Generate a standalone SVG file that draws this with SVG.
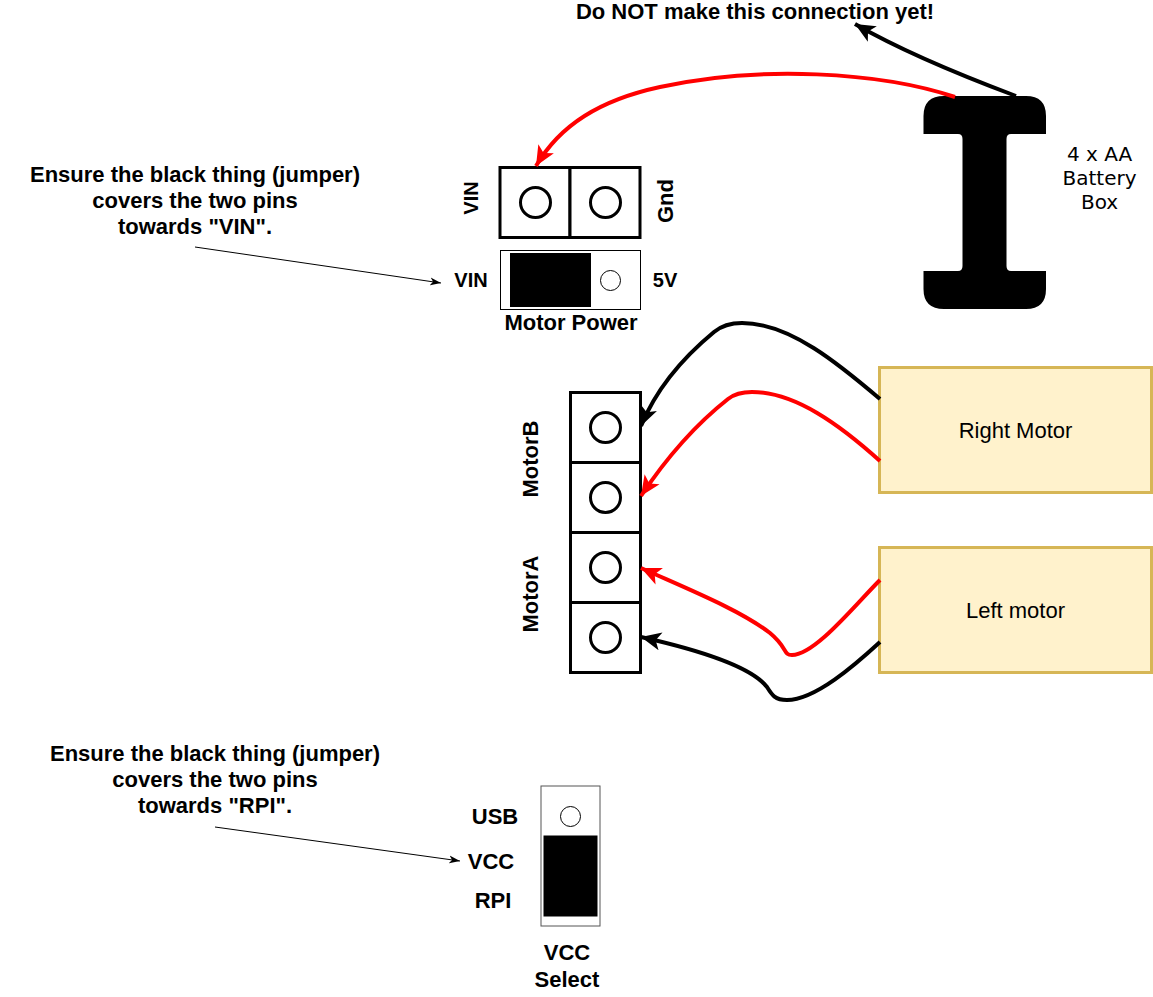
<svg xmlns="http://www.w3.org/2000/svg" width="1153" height="997" viewBox="0 0 1153 997">
<style>
text{font-family:"Liberation Sans",Arial,sans-serif;fill:#000}
.b{font-weight:bold;font-size:22px;text-anchor:middle}
.s{font-weight:bold;font-size:20px;text-anchor:middle}
.n{font-size:22px;text-anchor:middle}
.t{font-family:"DejaVu Sans",sans-serif;font-size:20px;text-anchor:middle}
.cell{fill:#fff;stroke:#000;stroke-width:3}
.pin{fill:#fff;stroke:#000;stroke-width:3}
.pin2{fill:#fff;stroke:#000;stroke-width:1}
.motor{fill:#fff2cc;stroke:#d6b656;stroke-width:3}
.w{fill:none;stroke-width:4}
.k{stroke:#000}
.r{stroke:#f00}
.thin{fill:none;stroke:#000;stroke-width:1}
</style>
<defs>
<marker id="ak" markerUnits="userSpaceOnUse" markerWidth="24" markerHeight="24" refX="20" refY="12" orient="auto"><path d="M0 3 L20 12 L0 21 L5 12Z" fill="#000"/></marker>
<marker id="ar" markerUnits="userSpaceOnUse" markerWidth="24" markerHeight="24" refX="20" refY="12" orient="auto"><path d="M0 3 L20 12 L0 21 L5 12Z" fill="#f00"/></marker>
<marker id="at" markerUnits="userSpaceOnUse" markerWidth="12" markerHeight="10" refX="11" refY="5" orient="auto"><path d="M0 1 L11 5 L0 9 L3 5Z" fill="#000"/></marker>
</defs>
<g id="battery">
<path d="M944 96 H1026 Q1046 96 1046 116 V134 H1011 Q1006.500 134 1006.500 139 V266 Q1006.500 271 1011 271 H1046 V289 Q1046 309 1026 309 H944 Q923.500 309 923.500 289 V271 H958 Q962.500 271 962.500 266 V139 Q962.500 134 958 134 H923.500 V116 Q923.500 96 944 96Z" fill="#000"/>
<text class="t" x="1099.500" y="161">4 x AA</text>
<text class="t" x="1099.500" y="185">Battery</text>
<text class="t" x="1099.500" y="209">Box</text>
</g>
<g id="note-top">
<text class="b" x="755" y="19">Do NOT make this connection yet!</text>
</g>
<g id="power-terminal">
<rect class="cell" x="500" y="167.500" width="70" height="70"/>
<rect class="cell" x="570" y="167.500" width="70" height="70"/>
<circle class="pin" cx="535.500" cy="202.500" r="15"/>
<circle class="pin" cx="605.500" cy="202.500" r="15"/>
<text class="s" transform="translate(478 198) rotate(-90)">VIN</text>
<text class="b" transform="translate(673 201) rotate(-90)">Gnd</text>
</g>
<g id="motor-power">
<rect x="500.500" y="250.500" width="140" height="59" fill="#fff" stroke="#000"/>
<rect x="510" y="253" width="81" height="54" fill="#000"/>
<circle class="pin2" cx="610.500" cy="280.500" r="10"/>
<text class="s" x="471" y="287">VIN</text>
<text class="s" x="665" y="287">5V</text>
<text class="b" x="571" y="330">Motor Power</text>
</g>
<g id="note-vin">
<text class="b" x="195" y="182">Ensure the black thing (jumper)</text>
<text class="b" x="195" y="208">covers the two pins</text>
<text class="b" x="195" y="234">towards "VIN".</text>
</g>
<g id="motor-terminal">
<rect class="cell" x="570.500" y="392.500" width="70" height="70"/>
<rect class="cell" x="570.500" y="462.500" width="70" height="70"/>
<rect class="cell" x="570.500" y="532.500" width="70" height="70"/>
<rect class="cell" x="570.500" y="602.500" width="70" height="70"/>
<circle class="pin" cx="605.500" cy="427.500" r="15"/>
<circle class="pin" cx="605.500" cy="497.500" r="15"/>
<circle class="pin" cx="605.500" cy="567.500" r="15"/>
<circle class="pin" cx="605.500" cy="637.500" r="15"/>
<text class="b" transform="translate(538 459) rotate(-90)">MotorB</text>
<text class="b" transform="translate(538 594) rotate(-90)">MotorA</text>
</g>
<g id="right-motor">
<rect class="motor" x="879.500" y="367.500" width="272" height="125"/>
<text class="n" x="1015.500" y="438">Right Motor</text>
</g>
<g id="left-motor">
<rect class="motor" x="879.500" y="547.500" width="272" height="125"/>
<text class="n" x="1015.500" y="618">Left motor</text>
</g>
<g id="note-rpi">
<text class="b" x="215" y="761">Ensure the black thing (jumper)</text>
<text class="b" x="215" y="787">covers the two pins</text>
<text class="b" x="215" y="813">towards "RPI".</text>
</g>
<g id="vcc-select">
<rect x="541" y="786" width="59" height="140" fill="#fff" stroke="#555" stroke-width="1"/>
<rect x="543.500" y="835.500" width="54" height="81" fill="#000"/>
<circle class="pin2" cx="570.500" cy="816.500" r="10"/>
<text class="b" x="495" y="824">USB</text>
<text class="b" x="491" y="869">VCC</text>
<text class="b" x="493" y="908">RPI</text>
<text class="b" x="567" y="960">VCC</text>
<text class="b" x="567" y="987">Select</text>
</g>
<g id="connectors">
<path class="w k" d="M1016 96 C960 75 900 50 855 24" marker-end="url(#ak)"/>
<path class="w r" d="M955 97 C880 72 760 65 660 87 C600 100 560 125 536 166" marker-end="url(#ar)"/>
<path class="w k" d="M880 399 C840 365 790 323 742 323 C728 323 720 327 714 332 C680 360 655 392 641 426" marker-end="url(#ak)"/>
<path class="w r" d="M880 461 C840 425 795 392 752 392 C740 392 733 395 728 399 C695 425 665 460 641 496" marker-end="url(#ar)"/>
<path class="w r" d="M880 580 C855 605 815 655 792 655 C783 655 788 648 770 633 C740 610 690 590 641 568" marker-end="url(#ar)"/>
<path class="w k" d="M880 642 C855 665 815 700 787 700 C775 700 772 695 767 687 C750 665 690 648 641 637" marker-end="url(#ak)"/>
<path class="thin" d="M195 247 L441 283" marker-end="url(#at)"/>
<path class="thin" d="M215 827 L460 861" marker-end="url(#at)"/>
</g>
</svg>
